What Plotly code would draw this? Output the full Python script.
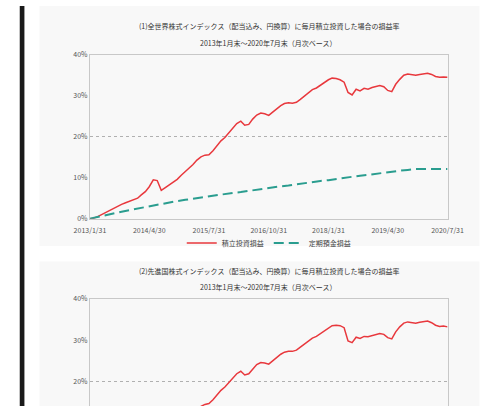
import pandas as pd
import plotly.graph_objects as go

# ---------------- data ----------------
months = pd.date_range("2013-01-31", periods=91, freq="ME")
tick_labels = ["2013/1/31", "2014/4/30", "2015/7/31", "2016/10/31",
               "2018/1/31", "2019/4/30", "2020/7/31"]
y_ticks = [0, 10, 20, 30, 40]

title1_l1 = "(1)全世界株式インデックス（配当込み、円換算）に毎月積立投資した場合の損益率"
title1_l2 = "2013年1月末～2020年7月末（月次ベース）"
title2_l1 = "(2)先進国株式インデックス（配当込み、円換算）に毎月積立投資した場合の損益率"
title2_l2 = "2013年1月末～2020年7月末（月次ベース）"
series_red_name = "積立投資損益"
series_teal_name = "定期預金損益"

red1 = [0, 0.1, 0.5, 1.0, 1.6, 2.1, 2.6, 3.1, 3.5, 3.9, 4.3, 4.7, 5.0, 5.8, 6.6, 7.8,
        9.5, 9.3, 6.9, 7.6, 8.2, 8.8, 9.6, 10.6, 11.5, 12.2, 13.2, 14.3, 15.1, 15.5,
        15.6, 16.6, 17.8, 19.0, 19.8, 21.0, 22.2, 23.2, 23.8, 22.8, 23.0, 24.3, 25.3,
        25.8, 25.6, 25.2, 26.0, 26.9, 27.6, 28.1, 28.3, 28.2, 28.4, 29.1, 29.9, 30.7,
        31.5, 31.9, 32.6, 33.3, 33.9, 34.3, 34.2, 33.9, 33.3, 30.8, 30.2, 31.6, 31.2,
        31.8, 31.6, 32.0, 32.2, 32.5, 32.2, 31.3, 31.0, 32.8, 34.0, 35.0, 35.3, 35.2,
        35.0, 35.2, 35.3, 35.5, 35.2, 34.7, 34.5, 34.6, 34.5]

teal1 = [0, 0.45, 0.85, 1.3, 1.7, 2.1, 2.5, 2.9, 3.25, 3.6, 3.9, 4.3, 4.6, 4.9, 5.2,
         5.5, 5.8, 6.0, 6.3, 6.5, 6.8, 7.1, 7.3, 7.6, 7.9, 8.1, 8.4, 8.6, 8.9, 9.2,
         9.4, 9.7, 9.9, 10.2, 10.5, 10.7, 11.0, 11.2, 11.4, 11.7, 11.9, 12.1, 12.1,
         12.1, 12.1, 12.1]

red2 = [0, 0.1, 0.4, 0.9, 1.4, 1.9, 2.4, 2.8, 3.2, 3.6, 3.9, 4.3, 4.6, 5.3, 6.1, 7.2,
        8.8, 8.6, 6.3, 7.0, 7.6, 8.2, 8.9, 9.8, 10.6, 11.3, 12.2, 13.2, 14.0, 14.5,
        14.7, 15.6, 16.8, 17.9, 18.7, 19.8, 20.9, 21.9, 22.5, 21.6, 21.9, 23.1, 24.1,
        24.6, 24.5, 24.2, 25.0, 25.9, 26.6, 27.1, 27.3, 27.3, 27.6, 28.3, 29.0, 29.8,
        30.5, 30.9, 31.6, 32.3, 33.0, 33.5, 33.6, 33.5, 33.0, 29.8, 29.4, 30.7, 30.4,
        30.9, 30.8, 31.1, 31.3, 31.6, 31.4, 30.6, 30.3, 32.0, 33.2, 34.1, 34.4, 34.3,
        34.1, 34.3, 34.4, 34.6, 34.2, 33.6, 33.3, 33.4, 33.2]

teal2 = teal1

# ---------------- styling ----------------
W, H = 501, 410
RED = "#e8383d"
TEAL = "#2a9d8f"
FONT = "Noto Sans CJK JP"
AXIS_C = "#c8c8c8"

def px_x(p):
    return p / W

def px_y(p):
    return 1 - p / H

teal_x = months[::2]
tick_vals = months[::15]

fig = go.Figure()
fig.add_trace(go.Scatter(x=months, y=red1, mode="lines", name=series_red_name,
                         line=dict(color=RED, width=1.5), xaxis="x", yaxis="y"))
fig.add_trace(go.Scatter(x=teal_x, y=teal1, mode="lines", name=series_teal_name,
                         line=dict(color=TEAL, width=2, dash="10px,5px"),
                         xaxis="x", yaxis="y3"))
fig.add_trace(go.Scatter(x=months, y=red2, mode="lines", name=series_red_name,
                         line=dict(color=RED, width=1.5), xaxis="x2", yaxis="y2",
                         showlegend=False))
fig.add_trace(go.Scatter(x=teal_x, y=teal2, mode="lines", name=series_teal_name,
                         line=dict(color=TEAL, width=2, dash="10px,5px"),
                         xaxis="x2", yaxis="y4", showlegend=False))

xdom = [px_x(79), px_x(461)]
y1dom = [px_y(218), px_y(50)]
y2dom = [0, px_y(300)]
y2_low = 20 - (410 - 385) / 4.25

tickfont = dict(family=FONT, size=7, color="#555")

fig.update_layout(
    width=W, height=H, autosize=False,
    margin=dict(l=0, r=0, t=0, b=0),
    paper_bgcolor="white", plot_bgcolor="white",
    font=dict(family=FONT, size=7, color="#444"),
    showlegend=True,
    legend=dict(orientation="h", x=px_x(270), xanchor="center",
                y=px_y(243), yanchor="middle", bgcolor="rgba(0,0,0,0)",
                font=dict(family=FONT, size=7, color="#444"),
                itemwidth=30, tracegroupgap=0),
    xaxis=dict(domain=xdom, anchor="y", range=[months[0], months[-1]],
               tickvals=tick_vals, ticktext=tick_labels, tickfont=tickfont,
               ticklabelstandoff=5,
               showgrid=False, zeroline=False, showline=True, mirror=True,
               linecolor=AXIS_C, linewidth=1, ticks=""),
    yaxis=dict(domain=y1dom, anchor="x", range=[0, 40], tickvals=y_ticks,
               ticktext=[f"{v}%" for v in y_ticks], tickfont=tickfont,
               showgrid=False, zeroline=False, showline=True, mirror=True,
               linecolor=AXIS_C, linewidth=1, ticks=""),
    yaxis3=dict(overlaying="y", anchor="x", range=[0, 40], tickvals=[20],
                showticklabels=False, showgrid=True, griddash="dot",
                gridcolor="#b0b0b0", gridwidth=1, zeroline=False, showline=False),
    xaxis2=dict(domain=xdom, anchor="y2", side="top", range=[months[0], months[-1]],
                showticklabels=False, showgrid=False, zeroline=False,
                showline=True, linecolor=AXIS_C, linewidth=1, ticks=""),
    yaxis2=dict(domain=y2dom, anchor="x2", range=[y2_low, 40], tickvals=y_ticks,
                ticktext=[f"{v}%" for v in y_ticks], tickfont=tickfont,
                showgrid=False, zeroline=False, showline=True, mirror=True,
                linecolor=AXIS_C, linewidth=1, ticks=""),
    yaxis4=dict(overlaying="y2", anchor="x2", range=[y2_low, 40], tickvals=[20],
                showticklabels=False, showgrid=True, griddash="dot",
                gridcolor="#b0b0b0", gridwidth=1, zeroline=False, showline=False),
)

# panels and left bar (page decoration)
fig.add_shape(type="rect", xref="paper", yref="paper", x0=px_x(25), x1=px_x(495),
              y0=px_y(246), y1=1, fillcolor="#f8f8f8", line_width=0, layer="below")
fig.add_shape(type="rect", xref="paper", yref="paper", x0=px_x(25), x1=px_x(495),
              y0=0, y1=px_y(262), fillcolor="#f8f8f8", line_width=0, layer="below")
fig.add_shape(type="rect", xref="paper", yref="paper", x0=px_x(4), x1=px_x(9),
              y0=0, y1=1, fillcolor="#1a1a1a", line_width=0, layer="above")

cx = px_x(270)
for txt, ypix in [(title1_l1, 21), (title1_l2, 38), (title2_l1, 272), (title2_l2, 288)]:
    fig.add_annotation(text=txt, x=cx, y=px_y(ypix), xref="paper", yref="paper",
                       xanchor="center", yanchor="middle", showarrow=False,
                       font=dict(family=FONT, size=7, color="#333"))

fig.write_html("out.html", config={"displayModeBar": False},
               post_script="document.body.style.margin='0';"
                           "document.body.style.overflow='hidden';")
